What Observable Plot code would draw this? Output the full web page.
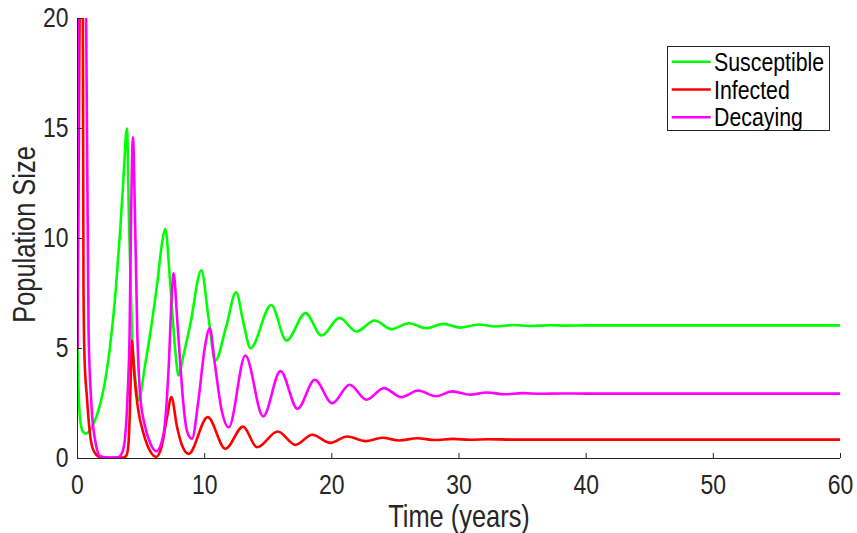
<!DOCTYPE html>
<html>
<head>
<meta charset="utf-8">
<script src="https://cdn.jsdelivr.net/npm/d3@7"></script>
<script src="https://cdn.jsdelivr.net/npm/@observablehq/plot@0.6"></script>
<style>
  body { margin: 0; background: #fff; }
  #chart { position: relative; width: 857px; height: 533px; }
  #legend { position: absolute; left: 667px; top: 46px; }
</style>
</head>
<body>
<div id="chart"></div>
<script>
// Series names and colours
const seriesNames = ["Susceptible", "Infected", "Decaying"];
const seriesColors = ["#00ff00", "#ff0000", "#ff00ff"];

// [time (years), population size]
const susceptible = [
  [0, 5.05], [0.07, 3.3], [0.2, 1.8], [0.4, 1.25], [0.65, 1.13], [1.26, 1.58],
  [1.79, 2.48], [2.18, 3.55], [2.52, 4.9], [2.7, 5.8], [3.0, 7.6], [3.36, 10.4],
  [3.6, 12.6], [3.89, 15.0], [4.05, 10.8], [4.28, 5.8], [4.55, 3.6], [4.8, 2.64],
  [5.3, 4.2], [5.8, 6.0], [6.3, 8.1], [6.65, 9.8], [6.9, 10.44], [7.3, 7.9],
  [7.69, 4.9], [7.95, 3.77], [8.3, 4.6], [8.87, 6.1], [9.74, 8.55], [10.3, 6.4],
  [10.84, 4.45], [11.68, 5.97], [12.47, 7.56], [13.04, 6.2], [13.6, 5.01],
  [15.23, 6.98], [16.43, 5.36], [17.93, 6.61], [19.19, 5.59], [20.6, 6.39],
  [21.94, 5.77], [23.36, 6.27], [24.7, 5.88], [26.06, 6.15], [27.43, 5.92],
  [28.77, 6.12], [30.08, 5.95], [31.55, 6.09], [32.9, 6.0], [34.3, 6.07],
  [35.7, 6.02], [37.1, 6.06], [38.5, 6.04], [40, 6.05], [60, 6.05]
];
const infected = [
  [0, 5.0], [0.17, 20.5], [0.3, 24], [0.42, 20.5], [0.47, 8], [0.55, 4.6],
  [0.74, 2.8], [0.95, 1.27], [1.26, 0.36], [1.8, 0.06], [2.5, 0.03], [3.6, 0.04],
  [3.85, 0.15], [4.0, 0.6], [4.12, 2.2], [4.22, 4.4], [4.28, 5.36], [4.35, 4.9],
  [4.5, 3.6], [4.75, 2.3], [5.2, 1.12], [5.7, 0.35], [6.2, 0.08], [6.6, 0.5],
  [7.04, 1.88], [7.38, 2.79], [7.83, 1.42], [8.22, 0.6], [8.74, 0.21],
  [10.24, 1.88], [11.63, 0.44], [13.02, 1.45], [14.12, 0.51], [15.75, 1.23],
  [17.14, 0.62], [18.46, 1.08], [19.9, 0.71], [21.2, 1.0], [22.65, 0.79],
  [23.97, 0.94], [25.3, 0.82], [26.7, 0.92], [28.1, 0.84], [29.5, 0.89],
  [30.9, 0.85], [32.3, 0.875], [34, 0.86], [60, 0.86]
];
const decaying = [
  [0, 5.05], [0.03, 12], [0.06, 21], [0.35, 30], [0.68, 20], [0.87, 5.8],
  [1.1, 2.4], [1.39, 0.82], [1.8, 0.1], [2.5, 0.04], [3.2, 0.06], [3.5, 0.25],
  [3.75, 1.0], [3.95, 3.0], [4.1, 5.8], [4.2, 10.4], [4.36, 14.6], [4.54, 10.4],
  [4.7, 5.8], [4.94, 2.8], [5.33, 1.42], [5.73, 0.68], [6.2, 0.33], [6.77, 1.12],
  [7.17, 4.15], [7.43, 7.6], [7.56, 8.42], [7.83, 6.4], [8.1, 4.15], [8.35, 2.33],
  [8.6, 1.27], [9.0, 0.9], [9.5, 2.6], [10.0, 5.0], [10.4, 5.92], [10.8, 4.3],
  [11.3, 2.3], [11.9, 1.42], [13.2, 4.68], [14.6, 1.91], [15.96, 3.97],
  [17.3, 2.26], [18.66, 3.58], [20.03, 2.51], [21.4, 3.35], [22.73, 2.67],
  [24.1, 3.2], [25.46, 2.79], [26.8, 3.09], [28.17, 2.83], [29.48, 3.05],
  [30.84, 2.9], [32.2, 3.0], [33.6, 2.92], [35, 2.97], [36.4, 2.94], [38, 2.955],
  [40, 2.95], [60, 2.95]
];

const xDomain = [0, 60];
const yDomain = [0, 20];
const xTicks = [0, 10, 20, 30, 40, 50, 60];
const yTicks = [0, 5, 10, 15, 20];
const xLabel = "Time (years)";
const yLabel = "Population Size";

const font = "'Liberation Sans', Arial, Helvetica, sans-serif";
const axisColor = "#262626";
// horizontal squeeze applied to every label, giving a narrow typeface
const narrow = 0.82;

const rows = [susceptible, infected, decaying].flatMap((s, i) =>
  s.map(([t, v]) => ({t, v, series: seriesNames[i]}))
);

const chart = Plot.plot({
  width: 857,
  height: 533,
  marginLeft: 77,
  marginRight: 17,
  marginTop: 18,
  marginBottom: 75,
  style: {fontFamily: font, background: "#fff", color: axisColor},
  x: {domain: xDomain},
  y: {domain: yDomain},
  color: {domain: seriesNames, range: seriesColors},
  marks: [
    Plot.lineY(rows, {
      x: "t", y: "v", z: "series", stroke: "series",
      strokeWidth: 2.6, curve: "monotone-x", clip: true
    }),
    // axis lines (left and bottom only)
    Plot.ruleX([xDomain[0]], {stroke: axisColor, strokeWidth: 1}),
    Plot.ruleY([yDomain[0]], {stroke: axisColor, strokeWidth: 1}),
    // inward ticks
    Plot.axisX({ticks: xTicks, tickSize: 5, dy: -5, fill: "none", stroke: axisColor, label: null}),
    Plot.axisY({ticks: yTicks, tickSize: 5, dx: 5, fill: "none", stroke: axisColor, label: null}),
    // tick labels
    Plot.axisX({ticks: xTicks, tickSize: 0, tickPadding: 16, fontSize: 28, fill: axisColor, label: null}),
    Plot.axisY({ticks: yTicks, tickSize: 0, tickPadding: 9, fontSize: 28, fill: axisColor, label: null}),
    // axis titles
    Plot.text([xLabel], {
      text: d => d, frameAnchor: "bottom", lineAnchor: "middle", textAnchor: "middle",
      dy: 59, fontSize: 31, fill: axisColor
    }),
    Plot.text([yLabel], {
      text: d => d, frameAnchor: "left", lineAnchor: "middle", textAnchor: "middle",
      rotate: -90, dx: -52, dy: -4, fontSize: 31, fill: axisColor
    })
  ]
});

// squeeze the text horizontally about its own anchor point
d3.select(chart).selectAll("text").each(function () {
  const t = this.getAttribute("transform") || "";
  this.setAttribute("transform", `${t} scale(${narrow},1)`);
});

const container = document.getElementById("chart");
container.appendChild(chart);

// legend box
const lw = 163, lh = 85, rowTop = 15.7, rowStep = 27.8;
const legend = d3.select(container).append("svg")
  .attr("id", "legend")
  .attr("width", lw)
  .attr("height", lh)
  .style("font-family", font);
legend.append("rect")
  .attr("x", 0.5).attr("y", 0.5)
  .attr("width", lw - 1).attr("height", lh - 1)
  .attr("fill", "#fff").attr("stroke", axisColor).attr("stroke-width", 1);
const item = legend.selectAll("g.item").data(seriesNames).join("g")
  .attr("class", "item")
  .attr("transform", (d, i) => `translate(0,${rowTop + i * rowStep})`);
item.append("line")
  .attr("x1", 4.7).attr("x2", 43.7)
  .attr("stroke", (d, i) => seriesColors[i])
  .attr("stroke-width", 2.6);
item.append("text")
  .attr("transform", `translate(47,0) scale(${narrow},1)`)
  .attr("dy", "0.35em")
  .attr("font-size", 26)
  .attr("fill", "#000")
  .text(d => d);
</script>
</body>
</html>
